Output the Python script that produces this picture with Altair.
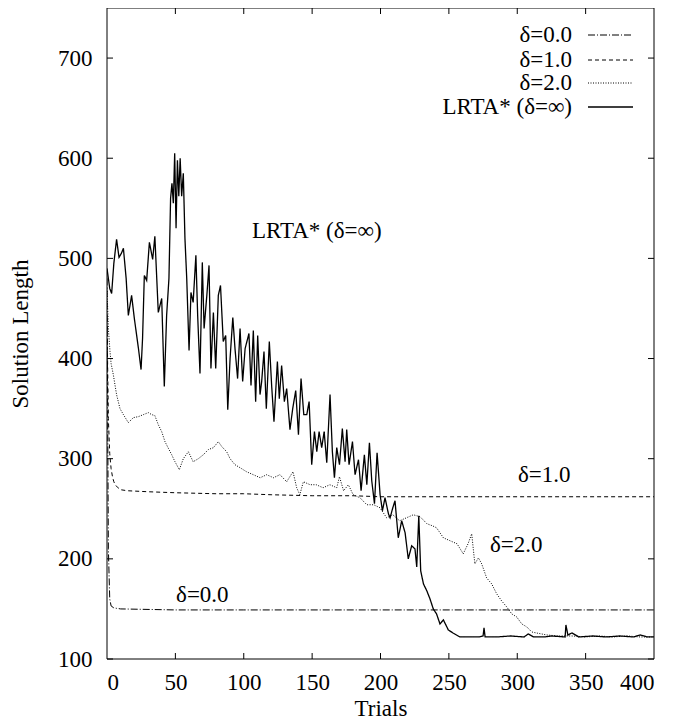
import altair as alt
import pandas as pd

# ---------------- data ----------------
lrta_trial = [0, 2, 3.4, 5, 7, 8.8, 10.5, 12, 14, 15.6, 18, 20, 23, 24.9, 26, 27.3, 29, 31, 33.4, 35,
              37.5, 40, 41.9, 43.6, 45.3, 46.5, 47.5, 48.5, 49.5, 50.5, 51.5, 52.5, 53.5, 54.6, 55.8, 57,
              58.3, 60, 61.4, 63, 65, 66.3, 68, 69.7, 71, 73, 74.6, 76, 77.8, 79.5, 81.4, 83, 85, 86.8,
              88.3, 90, 92, 93.6, 95.5, 97.3, 99.2, 101, 103.8, 105.3, 107, 108.7, 110.2, 111.9, 113.1,
              114.8, 116.5, 118.7, 120.4, 122.1, 124.6, 126, 127.7, 129.7, 131.4, 133.8, 135.8, 138, 140,
              141.9, 143.9, 146.1, 147.8, 149.7, 151.7, 153.4, 155.1, 157, 158.8, 160.7, 163.1, 164.8,
              166.3, 168, 170, 172.1, 174.1, 175.3, 177, 179.5, 181.4, 183.9, 185.8, 188.2, 190, 191.9,
              193.6, 195.6, 197.5, 199.7, 201.4, 203.3, 205.8, 207, 209, 210.6, 213, 215.5, 218, 220.3,
              222.8, 225.2, 226.5, 228, 229.4, 231.4, 233.9, 236.2, 238.6, 241, 243.5, 246, 249.6, 253,
              258, 265, 272, 275, 275.7, 276.5, 285, 295, 305, 308, 312, 320, 325, 335, 335.6, 337, 340,
              345, 355, 365, 375, 385, 390, 395, 400]
lrta_len = [490, 470, 465, 495, 519, 501, 505, 510, 480, 443, 463, 440, 410, 389, 420, 483, 478, 516, 499, 522,
            446, 460, 372, 443, 480, 560, 575, 555, 605, 530, 598, 562, 600, 562, 585, 520,
            480, 408, 466, 456, 503, 443, 385, 496, 430, 463, 493, 390, 446, 390, 463, 473, 417, 423,
            349, 400, 441, 410, 380, 430, 377, 410, 425, 373, 428, 357, 423, 364, 377,
            407, 350, 417, 373, 337, 397, 360, 393, 357, 370, 329, 350, 368, 324,
            380, 344, 344, 357, 294, 327, 307, 327, 311, 327, 296, 364, 307,
            281, 311, 294, 330, 297, 329, 294, 317, 284, 299, 268, 304, 274, 316,
            278, 255, 306, 264, 248, 261, 245, 241, 251, 258, 221, 238, 226, 200,
            213, 210, 192, 243, 188, 175, 168, 160, 150, 145, 135, 139, 129, 126,
            122, 122, 122, 123, 131, 122, 122, 123, 122, 125, 122, 122, 123, 122, 134, 124, 126,
            122, 123, 122, 123, 122, 124, 122, 122]

d2_trial = [0, 1, 2.2, 3, 4.6, 7, 9.5, 12, 15.6, 19.3, 23, 26.6, 30.2, 32.7, 35, 37.5, 40, 42.4, 45, 47.3,
            49.7, 52.9, 55.8, 59.5, 63, 66.8, 70.5, 74, 77.8, 81.4, 84, 87.5, 90, 93.6, 97.3, 102, 107,
            112, 116.8, 121.7, 126.5, 131.4, 136, 138.7, 141, 143.6, 148.5, 153, 158, 163, 168, 170,
            173, 176.5, 180, 185, 190, 195, 199.6, 204.5, 209, 214, 219, 224, 229, 234, 238, 241, 246,
            251, 256, 260.5, 264, 266.7, 269, 271.6, 274, 277.6, 281.3, 285, 288.6, 292.3, 296, 299.6,
            303.3, 307, 310.6, 314, 321.6, 330, 340, 350, 360, 370, 380, 390, 400]
d2_len = [470, 430, 407, 395, 384, 364, 350, 344, 336, 341, 342, 344, 346, 344, 343, 334, 327, 317, 310, 304,
          297, 289, 300, 307, 297, 300, 304, 309, 311, 317, 312, 307, 300, 294, 291, 287, 284,
          281, 284, 281, 284, 277, 287, 271, 264, 277, 274, 274, 271, 274, 271, 282,
          268, 274, 264, 261, 254, 254, 251, 241, 244, 238, 241, 244, 242, 235, 233, 231, 221,
          218, 215, 205, 215, 225, 195, 201, 195, 181, 175, 165, 158, 152, 145, 142,
          135, 132, 127, 126, 124, 123, 123, 122, 123, 122, 123, 122, 122]

d1_trial = [0, 1, 2, 3, 4, 5, 6, 8, 10, 15, 30, 50, 80, 100, 120, 150, 180, 200, 250, 300, 350, 400]
d1_len = [440, 340, 305, 290, 282, 277, 274, 271, 269, 268, 267, 266, 265, 265, 264, 263, 263, 262, 262, 262,
          262, 262]

d0_trial = [0, 1, 2, 3, 5, 10, 50, 100, 200, 300, 400]
d0_len = [480, 210, 160, 153, 151, 150, 149, 149, 149, 149, 149]

x_ticks = [0, 50, 100, 150, 200, 250, 300, 350, 400]
y_ticks = [100, 200, 300, 400, 500, 600, 700]

series_names = ["δ=0.0", "δ=1.0", "δ=2.0", "LRTA* (δ=∞)"]

# in-plot labels anchored in data coordinates
note_text = ["LRTA* (δ=∞)", "δ=1.0", "δ=2.0", "δ=0.0"]
note_trial = [106, 300.5, 280, 50.5]
note_len = [527, 283.5, 214, 163.5]

# ---------------- chart ----------------
W, H = 547, 651
FONT = "Liberation Serif"
FS = 23

xs = alt.Scale(domain=[0, 400], nice=False, zero=False)
ys = alt.Scale(domain=[100, 750], nice=False, zero=False)

AX_STYLE = dict(ticks=False, tickSize=0, domain=False, grid=False,
                labelFont=FONT, labelFontSize=FS, labelColor="black",
                titleFont=FONT, titleFontSize=FS, titleColor="black", titleFontWeight="normal")
X_AXIS = alt.Axis(values=x_ticks, title="Trials", labelPadding=12, titleY=49,
                  titleBaseline="middle", **AX_STYLE)
Y_AXIS = alt.Axis(values=y_ticks, title="Solution Length", labelPadding=15, titleX=-87, titleY=H / 2,
                  titleBaseline="middle", titleAlign="center", titleAngle=270, **AX_STYLE)


def X(field):
    return alt.X(field, scale=xs, axis=X_AXIS)


def Y(field):
    return alt.Y(field, scale=ys, axis=Y_AXIS)


def line_layer(tr, ln, dash, width):
    df = pd.DataFrame({"trial": tr, "len": ln})
    return alt.Chart(df).mark_line(
        color="black", strokeWidth=width, strokeDash=dash, clip=True
    ).encode(x=X("trial:Q"), y=Y("len:Q"))


l0 = line_layer(d0_trial, d0_len, [7, 2, 1, 2], 1.0)
l1 = line_layer(d1_trial, d1_len, [4, 3], 1.0)
l2 = line_layer(d2_trial, d2_len, [1, 1.5], 1.0)
l3 = line_layer(lrta_trial, lrta_len, [1, 0], 1.3)

# inward ticks on all four sides
xt = pd.DataFrame({"trial": x_ticks[1:-1]})
yt = pd.DataFrame({"len": y_ticks})
tick_bottom = alt.Chart(xt).mark_rule(color="black", strokeWidth=1).encode(
    x=X("trial:Q"), y=alt.value(H), y2=alt.value(H - 6))
tick_top = alt.Chart(xt).mark_rule(color="black", strokeWidth=1).encode(
    x=X("trial:Q"), y=alt.value(0), y2=alt.value(6))
tick_left = alt.Chart(yt).mark_rule(color="black", strokeWidth=1).encode(
    y=Y("len:Q"), x=alt.value(0), x2=alt.value(6))
tick_right = alt.Chart(yt).mark_rule(color="black", strokeWidth=1).encode(
    y=Y("len:Q"), x=alt.value(W), x2=alt.value(W - 6))

# frame
frame_df = pd.DataFrame({"k": [0]})
frame = alt.Chart(frame_df).mark_rect(fill=None, stroke="black", strokeWidth=1).encode(
    x=alt.value(0), x2=alt.value(W), y=alt.value(0), y2=alt.value(H))

# in-plot annotations
notes = alt.Chart(pd.DataFrame({"txt": note_text, "trial": note_trial, "len": note_len})).mark_text(
    font=FONT, fontSize=FS, align="left", baseline="middle", color="black"
).encode(x=X("trial:Q"), y=Y("len:Q"), text="txt:N")

# key (gnuplot style: label left, sample right)
dashes = [[7, 2, 1, 2], [4, 3], [1, 1.5], [1, 0]]
widths = [1.0, 1.0, 1.0, 1.3]
row_y = [27, 52, 75, 99]
key_layers = []
for name, dsh, wd, yy in zip(series_names, dashes, widths, row_y):
    kd = pd.DataFrame({"name": [name]})
    key_layers.append(alt.Chart(kd).mark_text(
        font=FONT, fontSize=FS, align="right", baseline="middle", color="black"
    ).encode(x=alt.value(465), y=alt.value(yy), text="name:N"))
    key_layers.append(alt.Chart(kd).mark_rule(
        color="black", strokeWidth=wd, strokeDash=dsh
    ).encode(x=alt.value(481), x2=alt.value(526), y=alt.value(yy)))

chart = alt.layer(
    l0, l1, l2, l3, tick_bottom, tick_top, tick_left, tick_right, frame, notes, *key_layers
).properties(
    width=W, height=H,
    background="white",
    autosize=alt.AutoSizeParams(type="none"),
    padding={"left": 99, "top": 0, "right": 10, "bottom": 62},
).configure_view(
    stroke=None
)

chart.save("out.html", embed_options={"renderer": "svg", "actions": False})
